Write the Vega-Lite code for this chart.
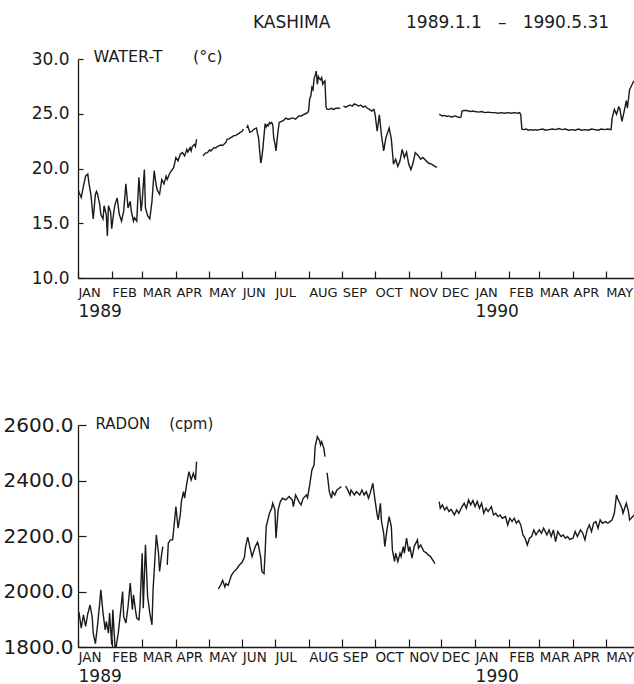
{
  "$schema": "https://vega.github.io/schema/vega-lite/v6.json",
  "background": "white",
  "padding": {"left": 3, "top": 14, "right": 0, "bottom": 0},
  "title": {
    "text": "KASHIMA\u00a0\u00a0\u00a0\u00a0\u00a0\u00a0\u00a0\u00a0\u00a0\u00a0\u00a0\u00a0\u00a0\u00a01989.1.1\u00a0\u00a0\u00a0–\u00a0\u00a0\u00a01990.5.31",
    "anchor": "start",
    "frame": "bounds",
    "dx": 250,
    "font": "DejaVu Sans",
    "fontSize": 17,
    "fontWeight": "normal",
    "color": "#1a1a1a",
    "offset": 16
  },
  "datasets": {
    "years": [{"d": "1989-01-01"}, {"d": "1990-01-01"}],
    "water": [
      {"d": "1989-01-01", "v": 18.1, "s": 1}, {"d": "1989-01-02", "v": 17.8, "s": 1}, {"d": "1989-01-04", "v": 17.35, "s": 1},
      {"d": "1989-01-06", "v": 18.4, "s": 1}, {"d": "1989-01-08", "v": 19.3, "s": 1}, {"d": "1989-01-10", "v": 19.5, "s": 1},
      {"d": "1989-01-11", "v": 18.7, "s": 1}, {"d": "1989-01-13", "v": 17.5, "s": 1}, {"d": "1989-01-15", "v": 15.4, "s": 1},
      {"d": "1989-01-17", "v": 17.65, "s": 1}, {"d": "1989-01-18", "v": 17.9, "s": 1}, {"d": "1989-01-19", "v": 17.65, "s": 1},
      {"d": "1989-01-21", "v": 16.7, "s": 1}, {"d": "1989-01-22", "v": 15.8, "s": 1}, {"d": "1989-01-24", "v": 15.4, "s": 1},
      {"d": "1989-01-25", "v": 16.6, "s": 1}, {"d": "1989-01-27", "v": 15.8, "s": 1}, {"d": "1989-01-28", "v": 13.85, "s": 1},
      {"d": "1989-01-29", "v": 16.6, "s": 1}, {"d": "1989-01-31", "v": 16.0, "s": 1}, {"d": "1989-02-01", "v": 14.5, "s": 1},
      {"d": "1989-02-03", "v": 16.1, "s": 1}, {"d": "1989-02-04", "v": 16.7, "s": 1}, {"d": "1989-02-06", "v": 17.3, "s": 1},
      {"d": "1989-02-08", "v": 15.8, "s": 1}, {"d": "1989-02-10", "v": 15.2, "s": 1}, {"d": "1989-02-12", "v": 16.1, "s": 1},
      {"d": "1989-02-14", "v": 18.6, "s": 1}, {"d": "1989-02-16", "v": 16.4, "s": 1}, {"d": "1989-02-18", "v": 17.0, "s": 1},
      {"d": "1989-02-19", "v": 16.1, "s": 1}, {"d": "1989-02-21", "v": 15.2, "s": 1}, {"d": "1989-02-22", "v": 15.5, "s": 1},
      {"d": "1989-02-24", "v": 15.2, "s": 1}, {"d": "1989-02-26", "v": 19.2, "s": 1}, {"d": "1989-02-28", "v": 16.1, "s": 1},
      {"d": "1989-03-01", "v": 17.0, "s": 1}, {"d": "1989-03-03", "v": 19.9, "s": 1}, {"d": "1989-03-04", "v": 16.4, "s": 1},
      {"d": "1989-03-06", "v": 15.7, "s": 1}, {"d": "1989-03-08", "v": 15.4, "s": 1}, {"d": "1989-03-10", "v": 17.0, "s": 1},
      {"d": "1989-03-12", "v": 19.8, "s": 1}, {"d": "1989-03-14", "v": 18.4, "s": 1}, {"d": "1989-03-15", "v": 18.0, "s": 1},
      {"d": "1989-03-17", "v": 17.65, "s": 1}, {"d": "1989-03-19", "v": 19.0, "s": 1}, {"d": "1989-03-21", "v": 18.6, "s": 1},
      {"d": "1989-03-23", "v": 19.3, "s": 1}, {"d": "1989-03-24", "v": 19.0, "s": 1}, {"d": "1989-03-26", "v": 19.5, "s": 1},
      {"d": "1989-03-28", "v": 19.8, "s": 1}, {"d": "1989-03-30", "v": 20.1, "s": 1}, {"d": "1989-04-01", "v": 21.0, "s": 1},
      {"d": "1989-04-03", "v": 20.7, "s": 1}, {"d": "1989-04-05", "v": 21.3, "s": 1}, {"d": "1989-04-07", "v": 21.45, "s": 1},
      {"d": "1989-04-09", "v": 21.15, "s": 1}, {"d": "1989-04-11", "v": 21.75, "s": 1}, {"d": "1989-04-12", "v": 21.5, "s": 1},
      {"d": "1989-04-14", "v": 21.9, "s": 1}, {"d": "1989-04-15", "v": 21.6, "s": 1}, {"d": "1989-04-16", "v": 22.0, "s": 1},
      {"d": "1989-04-18", "v": 22.2, "s": 1}, {"d": "1989-04-19", "v": 22.0, "s": 1}, {"d": "1989-04-20", "v": 22.67, "s": 1},
      {"d": "1989-04-26", "v": 21.15, "s": 2}, {"d": "1989-04-28", "v": 21.4, "s": 2}, {"d": "1989-04-30", "v": 21.45, "s": 2},
      {"d": "1989-05-02", "v": 21.7, "s": 2}, {"d": "1989-05-03", "v": 21.6, "s": 2}, {"d": "1989-05-05", "v": 21.8, "s": 2},
      {"d": "1989-05-06", "v": 21.9, "s": 2}, {"d": "1989-05-08", "v": 21.9, "s": 2}, {"d": "1989-05-09", "v": 22.0, "s": 2},
      {"d": "1989-05-11", "v": 22.1, "s": 2}, {"d": "1989-05-12", "v": 22.15, "s": 2}, {"d": "1989-05-14", "v": 22.1, "s": 2},
      {"d": "1989-05-15", "v": 22.2, "s": 2}, {"d": "1989-05-17", "v": 22.4, "s": 2}, {"d": "1989-05-18", "v": 22.67, "s": 2},
      {"d": "1989-05-20", "v": 22.7, "s": 2}, {"d": "1989-05-21", "v": 22.8, "s": 2}, {"d": "1989-05-23", "v": 22.9, "s": 2},
      {"d": "1989-05-24", "v": 23.0, "s": 2}, {"d": "1989-05-26", "v": 23.0, "s": 2}, {"d": "1989-05-27", "v": 23.1, "s": 2},
      {"d": "1989-05-29", "v": 23.2, "s": 2}, {"d": "1989-05-30", "v": 23.3, "s": 2}, {"d": "1989-06-01", "v": 23.4, "s": 2},
      {"d": "1989-06-02", "v": 23.6, "s": 2},
      {"d": "1989-06-05", "v": 23.7, "s": 3}, {"d": "1989-06-06", "v": 23.9, "s": 3}, {"d": "1989-06-07", "v": 23.6, "s": 3},
      {"d": "1989-06-08", "v": 23.3, "s": 3}, {"d": "1989-06-10", "v": 23.4, "s": 3}, {"d": "1989-06-12", "v": 23.6, "s": 3},
      {"d": "1989-06-14", "v": 23.7, "s": 3}, {"d": "1989-06-15", "v": 23.2, "s": 3}, {"d": "1989-06-16", "v": 22.8, "s": 3},
      {"d": "1989-06-17", "v": 21.6, "s": 3}, {"d": "1989-06-18", "v": 20.5, "s": 3}, {"d": "1989-06-19", "v": 21.0, "s": 3},
      {"d": "1989-06-20", "v": 21.9, "s": 3}, {"d": "1989-06-21", "v": 23.0, "s": 3}, {"d": "1989-06-22", "v": 24.1, "s": 3},
      {"d": "1989-06-23", "v": 23.8, "s": 3}, {"d": "1989-06-24", "v": 24.0, "s": 3}, {"d": "1989-06-25", "v": 23.9, "s": 3},
      {"d": "1989-06-26", "v": 24.2, "s": 3}, {"d": "1989-06-27", "v": 24.1, "s": 3}, {"d": "1989-06-28", "v": 24.2, "s": 3},
      {"d": "1989-06-29", "v": 24.0, "s": 3}, {"d": "1989-06-30", "v": 22.7, "s": 3}, {"d": "1989-07-01", "v": 22.3, "s": 3},
      {"d": "1989-07-02", "v": 21.6, "s": 3}, {"d": "1989-07-03", "v": 22.6, "s": 3}, {"d": "1989-07-04", "v": 23.5, "s": 3},
      {"d": "1989-07-05", "v": 24.2, "s": 3}, {"d": "1989-07-07", "v": 24.3, "s": 3}, {"d": "1989-07-09", "v": 24.4, "s": 3},
      {"d": "1989-07-11", "v": 24.6, "s": 3}, {"d": "1989-07-13", "v": 24.5, "s": 3}, {"d": "1989-07-14", "v": 24.5, "s": 3},
      {"d": "1989-07-16", "v": 24.6, "s": 3}, {"d": "1989-07-18", "v": 24.6, "s": 3}, {"d": "1989-07-20", "v": 24.5, "s": 3},
      {"d": "1989-07-22", "v": 24.7, "s": 3}, {"d": "1989-07-23", "v": 24.8, "s": 3}, {"d": "1989-07-25", "v": 24.8, "s": 3},
      {"d": "1989-07-27", "v": 24.9, "s": 3}, {"d": "1989-07-29", "v": 25.0, "s": 3}, {"d": "1989-07-31", "v": 25.1, "s": 3},
      {"d": "1989-08-01", "v": 25.3, "s": 3}, {"d": "1989-08-02", "v": 26.4, "s": 3}, {"d": "1989-08-03", "v": 26.6, "s": 3},
      {"d": "1989-08-04", "v": 27.4, "s": 3}, {"d": "1989-08-05", "v": 27.2, "s": 3}, {"d": "1989-08-06", "v": 28.2, "s": 3},
      {"d": "1989-08-07", "v": 28.5, "s": 3}, {"d": "1989-08-08", "v": 28.9, "s": 3}, {"d": "1989-08-09", "v": 27.7, "s": 3},
      {"d": "1989-08-10", "v": 28.4, "s": 3}, {"d": "1989-08-11", "v": 28.2, "s": 3}, {"d": "1989-08-12", "v": 28.1, "s": 3},
      {"d": "1989-08-13", "v": 28.3, "s": 3}, {"d": "1989-08-14", "v": 27.7, "s": 3}, {"d": "1989-08-15", "v": 27.9, "s": 3},
      {"d": "1989-08-16", "v": 28.0, "s": 3}, {"d": "1989-08-17", "v": 25.6, "s": 3}, {"d": "1989-08-18", "v": 25.4, "s": 3},
      {"d": "1989-08-20", "v": 25.4, "s": 3}, {"d": "1989-08-22", "v": 25.5, "s": 3}, {"d": "1989-08-24", "v": 25.4, "s": 3},
      {"d": "1989-08-26", "v": 25.5, "s": 3}, {"d": "1989-08-28", "v": 25.5, "s": 3}, {"d": "1989-08-30", "v": 25.5, "s": 3},
      {"d": "1989-09-02", "v": 25.7, "s": 4}, {"d": "1989-09-04", "v": 25.6, "s": 4}, {"d": "1989-09-06", "v": 25.7, "s": 4},
      {"d": "1989-09-08", "v": 25.8, "s": 4}, {"d": "1989-09-10", "v": 25.7, "s": 4}, {"d": "1989-09-12", "v": 25.9, "s": 4},
      {"d": "1989-09-14", "v": 25.8, "s": 4}, {"d": "1989-09-16", "v": 25.7, "s": 4}, {"d": "1989-09-18", "v": 25.8, "s": 4},
      {"d": "1989-09-20", "v": 25.6, "s": 4}, {"d": "1989-09-22", "v": 25.7, "s": 4}, {"d": "1989-09-24", "v": 25.5, "s": 4},
      {"d": "1989-09-26", "v": 25.4, "s": 4}, {"d": "1989-09-28", "v": 25.25, "s": 4}, {"d": "1989-09-30", "v": 25.4, "s": 4},
      {"d": "1989-10-01", "v": 25.0, "s": 4}, {"d": "1989-10-03", "v": 23.4, "s": 4}, {"d": "1989-10-05", "v": 24.9, "s": 4},
      {"d": "1989-10-07", "v": 23.0, "s": 4}, {"d": "1989-10-09", "v": 21.6, "s": 4}, {"d": "1989-10-11", "v": 22.8, "s": 4},
      {"d": "1989-10-14", "v": 23.7, "s": 4}, {"d": "1989-10-16", "v": 22.7, "s": 4}, {"d": "1989-10-18", "v": 20.4, "s": 4},
      {"d": "1989-10-20", "v": 20.85, "s": 4}, {"d": "1989-10-22", "v": 20.2, "s": 4}, {"d": "1989-10-24", "v": 20.7, "s": 4},
      {"d": "1989-10-26", "v": 21.75, "s": 4}, {"d": "1989-10-28", "v": 21.0, "s": 4}, {"d": "1989-10-30", "v": 21.5, "s": 4},
      {"d": "1989-11-01", "v": 20.4, "s": 4}, {"d": "1989-11-03", "v": 19.9, "s": 4}, {"d": "1989-11-05", "v": 20.5, "s": 4},
      {"d": "1989-11-07", "v": 21.45, "s": 4}, {"d": "1989-11-10", "v": 21.15, "s": 4}, {"d": "1989-11-12", "v": 20.85, "s": 4},
      {"d": "1989-11-14", "v": 21.0, "s": 4}, {"d": "1989-11-17", "v": 20.7, "s": 4}, {"d": "1989-11-19", "v": 20.5, "s": 4},
      {"d": "1989-11-22", "v": 20.4, "s": 4}, {"d": "1989-11-25", "v": 20.2, "s": 4}, {"d": "1989-11-27", "v": 20.1, "s": 4},
      {"d": "1989-11-29", "v": 24.95, "s": 5}, {"d": "1989-11-30", "v": 24.9, "s": 5}, {"d": "1989-12-02", "v": 24.8, "s": 5},
      {"d": "1989-12-04", "v": 24.85, "s": 5}, {"d": "1989-12-06", "v": 24.75, "s": 5}, {"d": "1989-12-08", "v": 24.8, "s": 5},
      {"d": "1989-12-10", "v": 24.7, "s": 5}, {"d": "1989-12-12", "v": 24.75, "s": 5}, {"d": "1989-12-14", "v": 24.8, "s": 5},
      {"d": "1989-12-16", "v": 24.7, "s": 5}, {"d": "1989-12-18", "v": 24.65, "s": 5}, {"d": "1989-12-19", "v": 24.7, "s": 5},
      {"d": "1989-12-20", "v": 25.25, "s": 5}, {"d": "1989-12-22", "v": 25.3, "s": 5}, {"d": "1989-12-24", "v": 25.3, "s": 5},
      {"d": "1989-12-26", "v": 25.25, "s": 5}, {"d": "1989-12-28", "v": 25.2, "s": 5}, {"d": "1989-12-30", "v": 25.25, "s": 5},
      {"d": "1990-01-01", "v": 25.2, "s": 5}, {"d": "1990-01-04", "v": 25.15, "s": 5}, {"d": "1990-01-07", "v": 25.2, "s": 5},
      {"d": "1990-01-10", "v": 25.1, "s": 5}, {"d": "1990-01-13", "v": 25.15, "s": 5}, {"d": "1990-01-16", "v": 25.1, "s": 5},
      {"d": "1990-01-19", "v": 25.1, "s": 5}, {"d": "1990-01-22", "v": 25.05, "s": 5}, {"d": "1990-01-25", "v": 25.1, "s": 5},
      {"d": "1990-01-28", "v": 25.05, "s": 5}, {"d": "1990-01-31", "v": 25.1, "s": 5}, {"d": "1990-02-03", "v": 25.05, "s": 5},
      {"d": "1990-02-06", "v": 25.1, "s": 5}, {"d": "1990-02-09", "v": 25.05, "s": 5}, {"d": "1990-02-11", "v": 25.1, "s": 5},
      {"d": "1990-02-12", "v": 24.9, "s": 5}, {"d": "1990-02-13", "v": 23.6, "s": 5}, {"d": "1990-02-15", "v": 23.55, "s": 5},
      {"d": "1990-02-17", "v": 23.6, "s": 5}, {"d": "1990-02-19", "v": 23.5, "s": 5}, {"d": "1990-02-21", "v": 23.55, "s": 5},
      {"d": "1990-02-23", "v": 23.5, "s": 5}, {"d": "1990-02-25", "v": 23.55, "s": 5}, {"d": "1990-02-27", "v": 23.5, "s": 5},
      {"d": "1990-03-01", "v": 23.55, "s": 5}, {"d": "1990-03-04", "v": 23.6, "s": 5}, {"d": "1990-03-07", "v": 23.5, "s": 5},
      {"d": "1990-03-10", "v": 23.55, "s": 5}, {"d": "1990-03-13", "v": 23.6, "s": 5}, {"d": "1990-03-16", "v": 23.55, "s": 5},
      {"d": "1990-03-19", "v": 23.65, "s": 5}, {"d": "1990-03-22", "v": 23.55, "s": 5}, {"d": "1990-03-25", "v": 23.6, "s": 5},
      {"d": "1990-03-28", "v": 23.5, "s": 5}, {"d": "1990-03-31", "v": 23.55, "s": 5}, {"d": "1990-04-03", "v": 23.5, "s": 5},
      {"d": "1990-04-06", "v": 23.6, "s": 5}, {"d": "1990-04-09", "v": 23.5, "s": 5}, {"d": "1990-04-12", "v": 23.55, "s": 5},
      {"d": "1990-04-15", "v": 23.5, "s": 5}, {"d": "1990-04-18", "v": 23.6, "s": 5}, {"d": "1990-04-21", "v": 23.55, "s": 5},
      {"d": "1990-04-24", "v": 23.5, "s": 5}, {"d": "1990-04-27", "v": 23.6, "s": 5}, {"d": "1990-04-30", "v": 23.55, "s": 5},
      {"d": "1990-05-03", "v": 23.6, "s": 5}, {"d": "1990-05-06", "v": 23.55, "s": 5}, {"d": "1990-05-07", "v": 24.6, "s": 5},
      {"d": "1990-05-09", "v": 25.4, "s": 5}, {"d": "1990-05-11", "v": 24.95, "s": 5}, {"d": "1990-05-13", "v": 25.6, "s": 5},
      {"d": "1990-05-14", "v": 25.5, "s": 5}, {"d": "1990-05-16", "v": 24.3, "s": 5}, {"d": "1990-05-18", "v": 25.2, "s": 5},
      {"d": "1990-05-20", "v": 26.2, "s": 5}, {"d": "1990-05-21", "v": 25.5, "s": 5}, {"d": "1990-05-23", "v": 27.2, "s": 5},
      {"d": "1990-05-25", "v": 27.6, "s": 5}, {"d": "1990-05-27", "v": 28.0, "s": 5}
    ],
    "radon": [
      {"d": "1989-01-01", "v": 1919, "s": 1}, {"d": "1989-01-02", "v": 1922, "s": 1}, {"d": "1989-01-04", "v": 1868, "s": 1},
      {"d": "1989-01-06", "v": 1916, "s": 1}, {"d": "1989-01-08", "v": 1874, "s": 1}, {"d": "1989-01-10", "v": 1920, "s": 1},
      {"d": "1989-01-11", "v": 1934, "s": 1}, {"d": "1989-01-12", "v": 1952, "s": 1}, {"d": "1989-01-14", "v": 1910, "s": 1},
      {"d": "1989-01-15", "v": 1850, "s": 1}, {"d": "1989-01-17", "v": 1812, "s": 1}, {"d": "1989-01-19", "v": 1880, "s": 1},
      {"d": "1989-01-21", "v": 1960, "s": 1}, {"d": "1989-01-22", "v": 2006, "s": 1}, {"d": "1989-01-24", "v": 1922, "s": 1},
      {"d": "1989-01-26", "v": 1862, "s": 1}, {"d": "1989-01-27", "v": 1892, "s": 1}, {"d": "1989-01-29", "v": 1850, "s": 1},
      {"d": "1989-01-30", "v": 1922, "s": 1}, {"d": "1989-02-01", "v": 1808, "s": 1}, {"d": "1989-02-02", "v": 1934, "s": 1},
      {"d": "1989-02-04", "v": 1802, "s": 1}, {"d": "1989-02-05", "v": 1800, "s": 1}, {"d": "1989-02-07", "v": 1850, "s": 1},
      {"d": "1989-02-09", "v": 1922, "s": 1}, {"d": "1989-02-11", "v": 2000, "s": 1}, {"d": "1989-02-12", "v": 1910, "s": 1},
      {"d": "1989-02-14", "v": 1886, "s": 1}, {"d": "1989-02-16", "v": 1946, "s": 1}, {"d": "1989-02-18", "v": 2030, "s": 1},
      {"d": "1989-02-20", "v": 1934, "s": 1}, {"d": "1989-02-21", "v": 1988, "s": 1}, {"d": "1989-02-23", "v": 1928, "s": 1},
      {"d": "1989-02-24", "v": 1904, "s": 1}, {"d": "1989-02-26", "v": 1898, "s": 1}, {"d": "1989-02-27", "v": 1946, "s": 1},
      {"d": "1989-03-01", "v": 2138, "s": 1}, {"d": "1989-03-02", "v": 1940, "s": 1}, {"d": "1989-03-04", "v": 2168, "s": 1},
      {"d": "1989-03-06", "v": 1982, "s": 1}, {"d": "1989-03-08", "v": 1922, "s": 1}, {"d": "1989-03-10", "v": 1880, "s": 1},
      {"d": "1989-03-11", "v": 2006, "s": 1}, {"d": "1989-03-13", "v": 2138, "s": 1}, {"d": "1989-03-14", "v": 2204, "s": 1},
      {"d": "1989-03-16", "v": 2138, "s": 1}, {"d": "1989-03-17", "v": 2072, "s": 1}, {"d": "1989-03-19", "v": 2138, "s": 1},
      {"d": "1989-03-20", "v": 2162, "s": 1},
      {"d": "1989-03-24", "v": 2096, "s": 2}, {"d": "1989-03-25", "v": 2174, "s": 2}, {"d": "1989-03-27", "v": 2186, "s": 2},
      {"d": "1989-03-29", "v": 2186, "s": 2}, {"d": "1989-03-31", "v": 2264, "s": 2}, {"d": "1989-04-01", "v": 2306, "s": 2},
      {"d": "1989-04-03", "v": 2228, "s": 2}, {"d": "1989-04-05", "v": 2276, "s": 2}, {"d": "1989-04-06", "v": 2324, "s": 2},
      {"d": "1989-04-08", "v": 2360, "s": 2}, {"d": "1989-04-09", "v": 2336, "s": 2}, {"d": "1989-04-11", "v": 2390, "s": 2},
      {"d": "1989-04-13", "v": 2432, "s": 2}, {"d": "1989-04-15", "v": 2402, "s": 2}, {"d": "1989-04-17", "v": 2426, "s": 2},
      {"d": "1989-04-19", "v": 2402, "s": 2}, {"d": "1989-04-20", "v": 2468, "s": 2},
      {"d": "1989-05-10", "v": 2009, "s": 3}, {"d": "1989-05-12", "v": 2022, "s": 3}, {"d": "1989-05-14", "v": 2040, "s": 3},
      {"d": "1989-05-16", "v": 2016, "s": 3}, {"d": "1989-05-17", "v": 2028, "s": 3}, {"d": "1989-05-19", "v": 2022, "s": 3},
      {"d": "1989-05-22", "v": 2058, "s": 3}, {"d": "1989-05-24", "v": 2070, "s": 3}, {"d": "1989-05-27", "v": 2082, "s": 3},
      {"d": "1989-05-29", "v": 2094, "s": 3}, {"d": "1989-06-01", "v": 2106, "s": 3}, {"d": "1989-06-03", "v": 2124, "s": 3},
      {"d": "1989-06-04", "v": 2160, "s": 3}, {"d": "1989-06-06", "v": 2196, "s": 3}, {"d": "1989-06-08", "v": 2160, "s": 3},
      {"d": "1989-06-10", "v": 2126, "s": 3}, {"d": "1989-06-12", "v": 2150, "s": 3}, {"d": "1989-06-13", "v": 2162, "s": 3},
      {"d": "1989-06-15", "v": 2178, "s": 3}, {"d": "1989-06-16", "v": 2164, "s": 3}, {"d": "1989-06-18", "v": 2120, "s": 3},
      {"d": "1989-06-19", "v": 2072, "s": 3}, {"d": "1989-06-21", "v": 2064, "s": 3}, {"d": "1989-06-22", "v": 2140, "s": 3},
      {"d": "1989-06-23", "v": 2234, "s": 3}, {"d": "1989-06-26", "v": 2282, "s": 3}, {"d": "1989-06-28", "v": 2300, "s": 3},
      {"d": "1989-06-29", "v": 2318, "s": 3}, {"d": "1989-07-01", "v": 2294, "s": 3}, {"d": "1989-07-02", "v": 2192, "s": 3},
      {"d": "1989-07-04", "v": 2294, "s": 3}, {"d": "1989-07-06", "v": 2324, "s": 3}, {"d": "1989-07-08", "v": 2336, "s": 3},
      {"d": "1989-07-11", "v": 2330, "s": 3}, {"d": "1989-07-14", "v": 2342, "s": 3}, {"d": "1989-07-17", "v": 2330, "s": 3},
      {"d": "1989-07-18", "v": 2306, "s": 3}, {"d": "1989-07-20", "v": 2348, "s": 3}, {"d": "1989-07-23", "v": 2324, "s": 3},
      {"d": "1989-07-25", "v": 2312, "s": 3}, {"d": "1989-07-27", "v": 2336, "s": 3}, {"d": "1989-07-30", "v": 2348, "s": 3},
      {"d": "1989-07-31", "v": 2338, "s": 3}, {"d": "1989-08-02", "v": 2384, "s": 3}, {"d": "1989-08-04", "v": 2438, "s": 3},
      {"d": "1989-08-06", "v": 2456, "s": 3}, {"d": "1989-08-07", "v": 2522, "s": 3}, {"d": "1989-08-09", "v": 2558, "s": 3},
      {"d": "1989-08-11", "v": 2544, "s": 3}, {"d": "1989-08-12", "v": 2528, "s": 3}, {"d": "1989-08-13", "v": 2540, "s": 3},
      {"d": "1989-08-15", "v": 2516, "s": 3}, {"d": "1989-08-16", "v": 2486, "s": 3},
      {"d": "1989-08-18", "v": 2428, "s": 4}, {"d": "1989-08-20", "v": 2360, "s": 4}, {"d": "1989-08-22", "v": 2336, "s": 4},
      {"d": "1989-08-23", "v": 2360, "s": 4}, {"d": "1989-08-25", "v": 2348, "s": 4}, {"d": "1989-08-27", "v": 2366, "s": 4},
      {"d": "1989-08-29", "v": 2372, "s": 4}, {"d": "1989-08-31", "v": 2378, "s": 4},
      {"d": "1989-09-04", "v": 2380, "s": 5}, {"d": "1989-09-06", "v": 2366, "s": 5}, {"d": "1989-09-08", "v": 2348, "s": 5},
      {"d": "1989-09-09", "v": 2366, "s": 5}, {"d": "1989-09-12", "v": 2348, "s": 5}, {"d": "1989-09-14", "v": 2360, "s": 5},
      {"d": "1989-09-17", "v": 2348, "s": 5}, {"d": "1989-09-19", "v": 2366, "s": 5}, {"d": "1989-09-21", "v": 2348, "s": 5},
      {"d": "1989-09-23", "v": 2360, "s": 5}, {"d": "1989-09-25", "v": 2336, "s": 5}, {"d": "1989-09-27", "v": 2360, "s": 5},
      {"d": "1989-09-29", "v": 2390, "s": 5}, {"d": "1989-09-30", "v": 2360, "s": 5}, {"d": "1989-10-01", "v": 2330, "s": 5},
      {"d": "1989-10-03", "v": 2276, "s": 5}, {"d": "1989-10-04", "v": 2258, "s": 5}, {"d": "1989-10-06", "v": 2318, "s": 5},
      {"d": "1989-10-07", "v": 2252, "s": 5}, {"d": "1989-10-09", "v": 2210, "s": 5}, {"d": "1989-10-10", "v": 2162, "s": 5},
      {"d": "1989-10-12", "v": 2222, "s": 5}, {"d": "1989-10-14", "v": 2270, "s": 5}, {"d": "1989-10-16", "v": 2234, "s": 5},
      {"d": "1989-10-17", "v": 2150, "s": 5}, {"d": "1989-10-19", "v": 2108, "s": 5}, {"d": "1989-10-20", "v": 2138, "s": 5},
      {"d": "1989-10-22", "v": 2108, "s": 5}, {"d": "1989-10-24", "v": 2138, "s": 5}, {"d": "1989-10-25", "v": 2126, "s": 5},
      {"d": "1989-10-27", "v": 2162, "s": 5}, {"d": "1989-10-28", "v": 2138, "s": 5}, {"d": "1989-10-30", "v": 2192, "s": 5},
      {"d": "1989-11-01", "v": 2144, "s": 5}, {"d": "1989-11-02", "v": 2162, "s": 5}, {"d": "1989-11-04", "v": 2120, "s": 5},
      {"d": "1989-11-06", "v": 2162, "s": 5}, {"d": "1989-11-09", "v": 2186, "s": 5}, {"d": "1989-11-10", "v": 2156, "s": 5},
      {"d": "1989-11-12", "v": 2168, "s": 5}, {"d": "1989-11-15", "v": 2144, "s": 5}, {"d": "1989-11-17", "v": 2140, "s": 5},
      {"d": "1989-11-19", "v": 2132, "s": 5}, {"d": "1989-11-21", "v": 2126, "s": 5}, {"d": "1989-11-24", "v": 2108, "s": 5},
      {"d": "1989-11-25", "v": 2100, "s": 5},
      {"d": "1989-11-29", "v": 2324, "s": 6}, {"d": "1989-11-30", "v": 2300, "s": 6}, {"d": "1989-12-02", "v": 2312, "s": 6},
      {"d": "1989-12-04", "v": 2294, "s": 6}, {"d": "1989-12-06", "v": 2304, "s": 6}, {"d": "1989-12-08", "v": 2288, "s": 6},
      {"d": "1989-12-10", "v": 2296, "s": 6}, {"d": "1989-12-13", "v": 2276, "s": 6}, {"d": "1989-12-15", "v": 2294, "s": 6},
      {"d": "1989-12-17", "v": 2282, "s": 6}, {"d": "1989-12-20", "v": 2306, "s": 6}, {"d": "1989-12-22", "v": 2318, "s": 6},
      {"d": "1989-12-24", "v": 2300, "s": 6}, {"d": "1989-12-26", "v": 2330, "s": 6}, {"d": "1989-12-28", "v": 2312, "s": 6},
      {"d": "1989-12-30", "v": 2328, "s": 6}, {"d": "1990-01-01", "v": 2306, "s": 6}, {"d": "1990-01-03", "v": 2324, "s": 6},
      {"d": "1990-01-05", "v": 2300, "s": 6}, {"d": "1990-01-07", "v": 2318, "s": 6}, {"d": "1990-01-09", "v": 2282, "s": 6},
      {"d": "1990-01-11", "v": 2300, "s": 6}, {"d": "1990-01-13", "v": 2288, "s": 6}, {"d": "1990-01-16", "v": 2306, "s": 6},
      {"d": "1990-01-18", "v": 2276, "s": 6}, {"d": "1990-01-20", "v": 2282, "s": 6}, {"d": "1990-01-22", "v": 2270, "s": 6},
      {"d": "1990-01-24", "v": 2276, "s": 6}, {"d": "1990-01-26", "v": 2264, "s": 6}, {"d": "1990-01-29", "v": 2270, "s": 6},
      {"d": "1990-01-31", "v": 2240, "s": 6}, {"d": "1990-02-02", "v": 2264, "s": 6}, {"d": "1990-02-04", "v": 2252, "s": 6},
      {"d": "1990-02-06", "v": 2264, "s": 6}, {"d": "1990-02-08", "v": 2246, "s": 6}, {"d": "1990-02-10", "v": 2256, "s": 6},
      {"d": "1990-02-12", "v": 2240, "s": 6}, {"d": "1990-02-14", "v": 2204, "s": 6}, {"d": "1990-02-16", "v": 2192, "s": 6},
      {"d": "1990-02-18", "v": 2168, "s": 6}, {"d": "1990-02-20", "v": 2192, "s": 6}, {"d": "1990-02-22", "v": 2198, "s": 6},
      {"d": "1990-02-24", "v": 2222, "s": 6}, {"d": "1990-02-26", "v": 2204, "s": 6}, {"d": "1990-03-01", "v": 2222, "s": 6},
      {"d": "1990-03-03", "v": 2210, "s": 6}, {"d": "1990-03-05", "v": 2228, "s": 6}, {"d": "1990-03-08", "v": 2204, "s": 6},
      {"d": "1990-03-10", "v": 2222, "s": 6}, {"d": "1990-03-12", "v": 2198, "s": 6}, {"d": "1990-03-14", "v": 2222, "s": 6},
      {"d": "1990-03-16", "v": 2180, "s": 6}, {"d": "1990-03-18", "v": 2216, "s": 6}, {"d": "1990-03-21", "v": 2198, "s": 6},
      {"d": "1990-03-23", "v": 2204, "s": 6}, {"d": "1990-03-25", "v": 2192, "s": 6}, {"d": "1990-03-27", "v": 2198, "s": 6},
      {"d": "1990-03-29", "v": 2188, "s": 6}, {"d": "1990-04-01", "v": 2192, "s": 6}, {"d": "1990-04-03", "v": 2216, "s": 6},
      {"d": "1990-04-05", "v": 2198, "s": 6}, {"d": "1990-04-08", "v": 2222, "s": 6}, {"d": "1990-04-10", "v": 2210, "s": 6},
      {"d": "1990-04-12", "v": 2186, "s": 6}, {"d": "1990-04-14", "v": 2222, "s": 6}, {"d": "1990-04-16", "v": 2240, "s": 6},
      {"d": "1990-04-18", "v": 2216, "s": 6}, {"d": "1990-04-20", "v": 2246, "s": 6}, {"d": "1990-04-22", "v": 2252, "s": 6},
      {"d": "1990-04-24", "v": 2228, "s": 6}, {"d": "1990-04-26", "v": 2258, "s": 6}, {"d": "1990-04-28", "v": 2246, "s": 6},
      {"d": "1990-05-01", "v": 2252, "s": 6}, {"d": "1990-05-03", "v": 2246, "s": 6}, {"d": "1990-05-05", "v": 2252, "s": 6},
      {"d": "1990-05-07", "v": 2258, "s": 6}, {"d": "1990-05-09", "v": 2282, "s": 6}, {"d": "1990-05-11", "v": 2348, "s": 6},
      {"d": "1990-05-12", "v": 2336, "s": 6}, {"d": "1990-05-14", "v": 2318, "s": 6}, {"d": "1990-05-16", "v": 2300, "s": 6},
      {"d": "1990-05-17", "v": 2282, "s": 6}, {"d": "1990-05-19", "v": 2306, "s": 6}, {"d": "1990-05-20", "v": 2318, "s": 6},
      {"d": "1990-05-22", "v": 2288, "s": 6}, {"d": "1990-05-23", "v": 2258, "s": 6}, {"d": "1990-05-26", "v": 2270, "s": 6},
      {"d": "1990-05-28", "v": 2280, "s": 6}
    ]
  },
  "vconcat": [
    {
      "width": 557,
      "height": 219,
      "layer": [
        {
          "data": {"name": "water"},
          "mark": {"type": "line", "color": "#1a1a1a", "strokeWidth": 1.4, "clip": true},
          "encoding": {
            "x": {
              "field": "d", "type": "temporal",
              "scale": {"type": "utc", "domain": ["1989-01-01", "1990-05-28"]},
              "axis": {
                "title": null, "orient": "bottom", "tickCount": "month", "labelExpr": "upper(utcFormat(datum.value, '%b'))",
                "labelAlign": "left", "labelBaseline": "top", "labelFlush": false, "labelOverlap": false,
                "labelFontSize": 13, "tickSize": -7, "labelPadding": 15.5, "domainWidth": 1.3, "tickWidth": 1.2
              }
            },
            "y": {
              "field": "v", "type": "quantitative",
              "scale": {"domain": [10, 30]},
              "axis": {
                "values": [10, 15, 20, 25, 30], "format": ".1f", "labelFontSize": 17, "labelFlush": false,
                "tickSize": -5, "labelPadding": 14, "domainWidth": 1.3, "tickWidth": 1.2,
                "title": "WATER-T\u00a0\u00a0\u00a0\u00a0\u00a0\u00a0(°c)", "titleAngle": 0, "titleAlign": "left",
                "titleBaseline": "alphabetic", "titleX": 15, "titleY": 2, "titleFontSize": 16
              }
            },
            "detail": {"field": "s"}
          }
        },
        {
          "data": {"name": "years"},
          "mark": {"type": "point", "opacity": 0},
          "encoding": {
            "x": {
              "field": "d", "type": "temporal",
              "axis": {
                "title": null, "orient": "bottom",
                "values": [{"year": 1989, "month": 1, "date": 1, "utc": true}, {"year": 1990, "month": 1, "date": 1, "utc": true}],
                "labelExpr": "utcFormat(datum.value, '%Y')", "labelAlign": "left", "labelBaseline": "top",
                "labelFlush": false, "labelOverlap": false, "labelFontSize": 17, "ticks": false, "domain": false, "labelPadding": 25
              }
            }
          }
        }
      ],
      "resolve": {"axis": {"x": "independent"}}
    },
    {
      "width": 557,
      "height": 222,
      "layer": [
        {
          "data": {"name": "radon"},
          "mark": {"type": "line", "color": "#1a1a1a", "strokeWidth": 1.4, "clip": true},
          "encoding": {
            "x": {
              "field": "d", "type": "temporal",
              "scale": {"type": "utc", "domain": ["1989-01-01", "1990-05-28"]},
              "axis": {
                "title": null, "orient": "bottom", "tickCount": "month", "labelExpr": "upper(utcFormat(datum.value, '%b'))",
                "labelAlign": "left", "labelBaseline": "top", "labelFlush": false, "labelOverlap": false,
                "labelFontSize": 13.5, "tickSize": -8, "labelPadding": 11, "domainWidth": 1.3, "tickWidth": 1.2
              }
            },
            "y": {
              "field": "v", "type": "quantitative",
              "scale": {"domain": [1800, 2600]},
              "axis": {
                "values": [1800, 2000, 2200, 2400, 2600], "format": ".1f", "labelFontSize": 20, "labelFlush": false,
                "tickSize": -8, "labelPadding": 13, "domainWidth": 1.3, "tickWidth": 1.2,
                "title": "RADON\u00a0\u00a0\u00a0\u00a0(cpm)", "titleAngle": 0, "titleAlign": "left",
                "titleBaseline": "alphabetic", "titleX": 17, "titleY": 3, "titleFontSize": 15
              }
            },
            "detail": {"field": "s"}
          }
        },
        {
          "data": {"name": "years"},
          "mark": {"type": "point", "opacity": 0},
          "encoding": {
            "x": {
              "field": "d", "type": "temporal",
              "axis": {
                "title": null, "orient": "bottom",
                "values": [{"year": 1989, "month": 1, "date": 1, "utc": true}, {"year": 1990, "month": 1, "date": 1, "utc": true}],
                "labelExpr": "utcFormat(datum.value, '%Y')", "labelAlign": "left", "labelBaseline": "top",
                "labelFlush": false, "labelOverlap": false, "labelFontSize": 17, "ticks": false, "domain": false, "labelPadding": 21
              }
            }
          }
        }
      ],
      "resolve": {"axis": {"x": "independent"}}
    }
  ],
  "spacing": 96,
  "config": {
    "font": "DejaVu Sans",
    "view": {"stroke": null},
    "axis": {
      "labelFont": "DejaVu Sans", "titleFont": "DejaVu Sans", "titleFontWeight": "normal",
      "labelColor": "#1a1a1a", "titleColor": "#1a1a1a", "domainColor": "#1a1a1a", "tickColor": "#1a1a1a",
      "grid": false
    }
  }
}
